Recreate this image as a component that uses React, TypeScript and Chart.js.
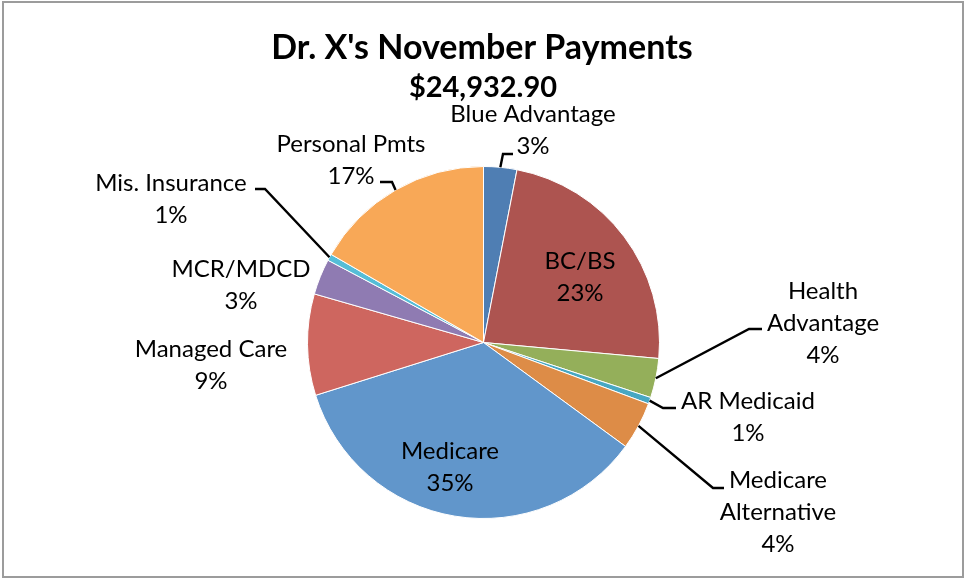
import React, { useEffect, useRef } from 'react';
import { Chart, registerables } from 'chart.js';

Chart.register(...registerables);

const TITLE = "Dr. X's November Payments";
const SUBTITLE = '$24,932.90';

const categories = [
  'Blue Advantage',
  'BC/BS',
  'Health Advantage',
  'AR Medicaid',
  'Medicare Alternative',
  'Medicare',
  'Managed Care',
  'MCR/MDCD',
  'Mis. Insurance',
  'Personal Pmts',
];

const payments = [760, 5835, 900, 150, 1095, 8750, 2320, 820, 150, 4152.9];

const colors = [
  '#4F7EB3',
  '#AD5450',
  '#94AF5A',
  '#47A7C2',
  '#DD8C47',
  '#6196CB',
  '#CE665F',
  '#8F7BB2',
  '#55BDD7',
  '#F8A857',
];

// label layout: centre x, first baseline y, whether name wraps, leader elbow + end
type LabelLayout = { x: number; y: number; wrap: boolean; leader?: number[][] };
const labelLayout: LabelLayout[] = [
  { x: 533, y: 122, wrap: false, leader: [[503, 154], [513, 154]] },
  { x: 580, y: 269, wrap: false },
  { x: 823, y: 299, wrap: true, leader: [[749, 329], [762, 329]] },
  { x: 748, y: 409, wrap: false, leader: [[663, 408], [676, 408]] },
  { x: 778, y: 488, wrap: true, leader: [[713, 488], [724, 488]] },
  { x: 450, y: 459, wrap: false },
  { x: 211, y: 357, wrap: false },
  { x: 241, y: 277, wrap: false },
  { x: 171, y: 191, wrap: false, leader: [[265, 189], [255, 189]] },
  { x: 351, y: 152, wrap: false, leader: [[392, 182], [380, 182]] },
];

const FONT = 'Lato, "Noto Sans", sans-serif';
const LINE_H = 32;

const decorPlugin = {
  id: 'decor',
  beforeDraw(chart: any) {
    const ctx = chart.ctx;
    ctx.save();
    ctx.fillStyle = '#ffffff';
    ctx.fillRect(0, 0, chart.width, chart.height);
    ctx.strokeStyle = '#9c9c9c';
    ctx.lineWidth = 2;
    ctx.strokeRect(3, 2, 960, 575);
    ctx.restore();
  },
  afterDatasetsDraw(chart: any) {
    const ctx = chart.ctx;
    const meta = chart.getDatasetMeta(0);
    const data = chart.data.datasets[0].data as number[];
    const total = data.reduce((a, b) => a + b, 0);
    ctx.save();
    // titles
    ctx.fillStyle = '#000000';
    ctx.textAlign = 'center';
    ctx.textBaseline = 'alphabetic';
    ctx.font = `bold 34px ${FONT}`;
    ctx.fillText(TITLE, 482, 59);
    ctx.font = `bold 29px ${FONT}`;
    ctx.fillText(SUBTITLE, 483, 97);

    // leaders
    ctx.strokeStyle = '#000000';
    ctx.lineWidth = 2.4;
    ctx.lineJoin = 'miter';
    meta.data.forEach((arc: any, i: number) => {
      const lay = labelLayout[i];
      if (!lay || !lay.leader) return;
      const p = arc.getProps(['x', 'y', 'startAngle', 'endAngle', 'outerRadius'], true);
      const mid = (p.startAngle + p.endAngle) / 2;
      const sx = p.x + Math.cos(mid) * p.outerRadius;
      const sy = p.y + Math.sin(mid) * p.outerRadius;
      ctx.beginPath();
      ctx.moveTo(sx, sy);
      lay.leader.forEach((pt) => ctx.lineTo(pt[0], pt[1]));
      ctx.stroke();
    });

    // labels
    ctx.font = `24px ${FONT}`;
    ctx.fillStyle = '#000000';
    meta.data.forEach((_arc: any, i: number) => {
      const lay = labelLayout[i];
      const name = categories[i];
      const pct = Math.round((data[i] / total) * 100) + '%';
      const lines = lay.wrap ? [...name.split(' '), pct] : [name, pct];
      lines.forEach((t, k) => ctx.fillText(t, lay.x, lay.y + k * LINE_H));
    });
    ctx.restore();
  },
};

export default function App() {
  const ref = useRef<HTMLCanvasElement | null>(null);
  useEffect(() => {
    if (!ref.current) return;
    const chart = new Chart(ref.current, {
      type: 'pie',
      data: {
        labels: categories,
        datasets: [
          {
            data: payments,
            backgroundColor: colors,
            borderColor: '#ffffff',
            borderWidth: 1,
          },
        ],
      },
      options: {
        responsive: false,
        animation: false,
        devicePixelRatio: 1,
        layout: { padding: { left: 307, right: 305, top: 166, bottom: 59 } },
        plugins: {
          legend: { display: false },
          title: { display: false },
          tooltip: { enabled: false },
        },
      },
      plugins: [decorPlugin],
    });
    return () => chart.destroy();
  }, []);
  return (
    <div style={{ position: 'fixed', left: 0, top: 0, width: 965, height: 578, background: '#fff' }}>
      <canvas ref={ref} width={965} height={578} />
    </div>
  );
}
